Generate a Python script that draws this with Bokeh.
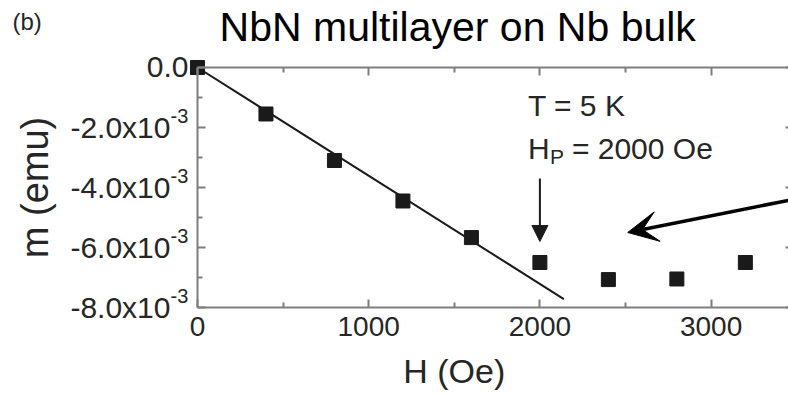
import math

from bokeh.plotting import figure
from bokeh.models import (Range1d, LinearAxis, FixedTicker, Label, Arrow,
                          NormalHead, VeeHead)
from bokeh.embed import file_html
from bokeh.resources import INLINE

# Magnetization m(H) of the NbN multilayer on bulk Nb at T = 5 K
field_oe = [0, 400, 800, 1200, 1600, 2000, 2400, 2800, 3200]
moment_emu = [0.0, -1.55e-3, -3.1e-3, -4.45e-3, -5.67e-3, -6.5e-3,
              -7.07e-3, -7.05e-3, -6.5e-3]

# Linear (Meissner) fit through the low-field points
fit_field_oe = [0, 2140]
fit_moment_emu = [0.0, -7.72e-3]

# Penetration field marked by the vertical arrow
hp_field = 2000
hp_arrow_y = [-3.7e-3, -5.8e-3]

# Pointer arrow coming in from the right
pointer_x = [3600, 2513]
pointer_y = [-4.26e-3, -5.5e-3]

x_ticks = [0, 1000, 2000, 3000]
x_minor = [500, 1500, 2500, 3500]
x_tick_labels = ["0", "1000", "2000", "3000"]
y_ticks = [0.0, -2e-3, -4e-3, -6e-3, -8e-3]
y_minor = [-1e-3, -3e-3, -5e-3, -7e-3]
y_tick_base = ["0.0", "-2.0x10", "-4.0x10", "-6.0x10", "-8.0x10"]
y_tick_exp = ["", "-3", "-3", "-3", "-3"]

# visible data box
X_MIN, X_MAX = 0, 3452
Y_MIN, Y_MAX = -8e-3, 0.0

FONT = "Liberation Sans"
AXIS = "#7f7f7f"
TEXT = "#262626"
INK = "#1a1a1a"

# The frame spans the whole canvas; the data box sits inside it so that
# tick labels and titles around it can be drawn as ordinary labels.
p = figure(width=788, height=396, output_backend="svg", toolbar_location=None,
           x_range=Range1d(-1150.5, 3452), y_range=Range1d(-10.967e-3, 2.233e-3),
           x_axis_location=None, y_axis_location=None,
           min_border=0)
p.title.visible = False
p.outline_line_color = None
p.xgrid.visible = False
p.ygrid.visible = False
p.background_fill_color = "white"
p.border_fill_color = "white"


def style_axis(ax, ticks, minor, major_in=8, minor_in=5, line=True):
    ax.ticker = FixedTicker(ticks=ticks, minor_ticks=minor)
    ax.axis_line_color = AXIS if line else None
    ax.axis_line_width = 2
    ax.major_tick_line_color = AXIS
    ax.major_tick_line_width = 2
    ax.minor_tick_line_color = AXIS if minor_in else None
    ax.minor_tick_line_width = 2
    ax.major_tick_in = major_in
    ax.major_tick_out = 0
    ax.minor_tick_in = minor_in
    ax.minor_tick_out = 0


def hide_labels(ax):
    # tick marks only; the labels of this axis are not painted
    ax.major_label_text_font_size = "0px"
    ax.major_label_text_color = None
    ax.major_label_standoff = 0


bottom = LinearAxis(fixed_location=Y_MIN, bounds=(X_MIN, X_MAX))
style_axis(bottom, x_ticks, x_minor)
bottom.major_label_overrides = dict(zip(x_ticks, x_tick_labels))
bottom.major_label_text_font = FONT
bottom.major_label_text_font_size = "28px"
bottom.major_label_text_color = TEXT
bottom.major_label_standoff = 10
p.add_layout(bottom, "below")

top = LinearAxis(fixed_location=Y_MAX, bounds=(X_MIN, X_MAX))
style_axis(top, x_ticks, x_minor)
hide_labels(top)
p.add_layout(top, "above")

left = LinearAxis(fixed_location=X_MIN, bounds=(Y_MIN, Y_MAX))
style_axis(left, y_ticks, y_minor)
hide_labels(left)
p.add_layout(left, "left")

right = LinearAxis(fixed_location=3481, bounds=(Y_MIN, Y_MAX))
style_axis(right, y_ticks, [], major_in=8, minor_in=0, line=False)
hide_labels(right)
p.add_layout(right, "right")

# data and fit
p.line(fit_field_oe, fit_moment_emu, line_color=INK, line_width=2)
p.scatter(field_oe, moment_emu, marker="square", size=14,
          fill_color=INK, line_color=INK)

# y tick labels with a raised exponent
for yv, base, exp in zip(y_ticks, y_tick_base, y_tick_exp):
    if exp:
        p.add_layout(Label(x=X_MIN, y=yv, x_offset=-27, text=base,
                           text_align="right", text_baseline="middle",
                           text_font=FONT, text_font_size="30px",
                           text_color=TEXT))
        p.add_layout(Label(x=X_MIN, y=yv, x_offset=-27, y_offset=11, text=exp,
                           text_align="left", text_baseline="middle",
                           text_font=FONT, text_font_size="20px",
                           text_color=TEXT))
    else:
        p.add_layout(Label(x=X_MIN, y=yv, x_offset=-9, text=base,
                           text_align="right", text_baseline="middle",
                           text_font=FONT, text_font_size="30px",
                           text_color=TEXT))

# axis titles and heading
p.add_layout(Label(x=X_MIN, y=-4e-3, x_offset=-162, text="m (emu)",
                   angle=math.pi / 2, text_align="center",
                   text_baseline="middle", text_font=FONT,
                   text_font_size="38px", text_color=TEXT))
p.add_layout(Label(x=1500, y=Y_MIN, y_offset=-64, text="H (Oe)",
                   text_align="center", text_baseline="alphabetic",
                   text_font=FONT, text_font_size="34px", text_color=TEXT))
p.add_layout(Label(x=1520, y=Y_MAX, y_offset=40, text="NbN multilayer on Nb bulk",
                   text_align="center", text_baseline="alphabetic",
                   text_font=FONT, text_font_size="41px", text_color="black"))
p.add_layout(Label(x=X_MIN, y=Y_MAX, x_offset=-185, y_offset=46, text="(b)",
                   text_align="left", text_baseline="alphabetic",
                   text_font=FONT, text_font_size="24px", text_color=TEXT))

# condition annotations
p.add_layout(Label(x=hp_field, y=-1.27e-3, x_offset=-12, text="T = 5 K",
                   text_align="left", text_baseline="alphabetic",
                   text_font=FONT, text_font_size="30px", text_color=TEXT))
p.add_layout(Label(x=hp_field, y=-2.7e-3, x_offset=-12, text="H",
                   text_align="left", text_baseline="alphabetic",
                   text_font=FONT, text_font_size="30px", text_color=TEXT))
p.add_layout(Label(x=hp_field, y=-2.7e-3, x_offset=10, y_offset=-8, text="P",
                   text_align="left", text_baseline="alphabetic",
                   text_font=FONT, text_font_size="21px", text_color=TEXT))
p.add_layout(Label(x=hp_field, y=-2.7e-3, x_offset=32,
                   text=f"= {hp_field} Oe",
                   text_align="left", text_baseline="alphabetic",
                   text_font=FONT, text_font_size="30px", text_color=TEXT))

# arrows
p.add_layout(Arrow(x_start=hp_field, y_start=hp_arrow_y[0],
                   x_end=hp_field, y_end=hp_arrow_y[1],
                   line_color=INK, line_width=2,
                   end=NormalHead(size=16, fill_color=INK, line_color=INK)))
p.add_layout(Arrow(x_start=pointer_x[0], y_start=pointer_y[0],
                   x_end=pointer_x[1], y_end=pointer_y[1],
                   line_color="black", line_width=3.5,
                   end=VeeHead(size=30, fill_color="black", line_color="black")))

open("out.html", "w").write(file_html(p, INLINE))
